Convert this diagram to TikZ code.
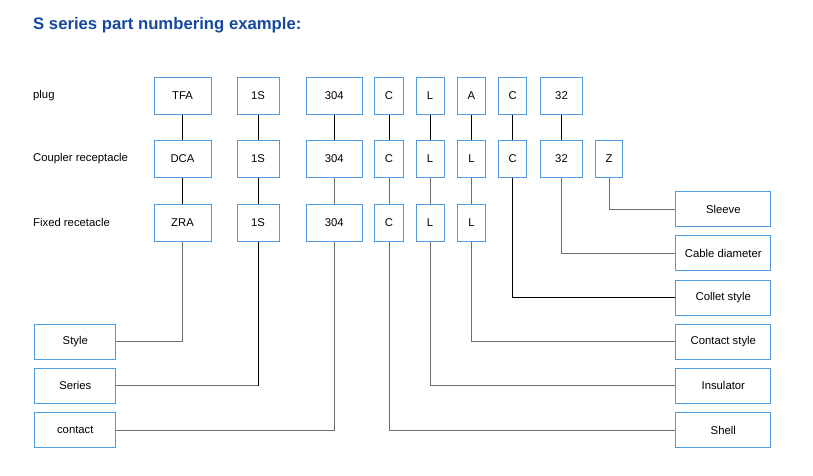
\documentclass[tikz,border=0pt]{standalone}
\usepackage{fontspec}
\setmainfont{Liberation Sans}
\definecolor{boxblue}{RGB}{80,155,220}
\definecolor{titleblue}{RGB}{22,72,160}
\definecolor{linegray}{RGB}{110,110,110}
\tikzset{
  pbox/.style={draw=boxblue, line width=1pt, fill=white, minimum height=37pt, inner sep=0pt, font=\fontsize{11.3}{13}\selectfont},
  lbox/.style={draw=boxblue, line width=1pt, fill=white, minimum height=35pt, inner sep=0pt, font=\fontsize{11.3}{13}\selectfont},
  rowlab/.style={anchor=west, inner sep=0pt, font=\fontsize{11.3}{13}\selectfont},
  link/.style={draw=black, line width=0.9pt},
  glink/.style={draw=linegray, line width=1pt},
}
\begin{document}
\begin{tikzpicture}[x=1pt, y=-1pt]
\useasboundingbox (0,0) rectangle (813,475);
\node[anchor=west, inner sep=0pt, text=titleblue, font=\fontsize{16.7}{19}\selectfont\bfseries] (title) at (33,25.5) {S series part numbering example:};
\node[rowlab] (lplug) at (33,96) {plug};
\node[rowlab] (lcoup) at (33,158.5) {Coupler receptacle};
\node[rowlab] (lfix) at (33,222.5) {Fixed recetacle};
% row 1
\node[pbox, minimum width=57pt] (a1) at (182.5,96) {TFA};
\node[pbox, minimum width=42pt] (b1) at (258,96) {1S};
\node[pbox, minimum width=56pt] (c1) at (334.3,96) {304};
\node[pbox, minimum width=29pt] (d1) at (389,96) {C};
\node[pbox, minimum width=28pt] (e1) at (430,96) {L};
\node[pbox, minimum width=28pt] (f1) at (471.5,96) {A};
\node[pbox, minimum width=28pt] (g1) at (512.8,96) {C};
\node[pbox, minimum width=42pt] (h1) at (561.5,96) {32};
% row 2
\node[pbox, minimum width=57pt] (a2) at (182.5,158.5) {DCA};
\node[pbox, minimum width=42pt] (b2) at (258,158.5) {1S};
\node[pbox, minimum width=56pt] (c2) at (334.3,158.5) {304};
\node[pbox, minimum width=29pt] (d2) at (389,158.5) {C};
\node[pbox, minimum width=28pt] (e2) at (430,158.5) {L};
\node[pbox, minimum width=28pt] (f2) at (471.5,158.5) {L};
\node[pbox, minimum width=28pt] (g2) at (512.8,158.5) {C};
\node[pbox, minimum width=42pt] (h2) at (561.5,158.5) {32};
\node[pbox, minimum width=27pt] (i2) at (609,158.5) {Z};
% row 3
\node[pbox, minimum width=57pt] (a3) at (182.5,222.5) {ZRA};
\node[pbox, minimum width=42pt] (b3) at (258,222.5) {1S};
\node[pbox, minimum width=56pt] (c3) at (334.3,222.5) {304};
\node[pbox, minimum width=29pt] (d3) at (389,222.5) {C};
\node[pbox, minimum width=28pt] (e3) at (430,222.5) {L};
\node[pbox, minimum width=28pt] (f3) at (471.5,222.5) {L};
% left boxes
\node[lbox, minimum width=81pt] (style) at (75.3,341.7) {Style};
\node[lbox, minimum width=81pt] (series) at (75.3,385.8) {Series};
\node[lbox, minimum width=81pt] (contact) at (75.3,430.2) {contact};
% right boxes
\node[lbox, minimum width=95pt] (sleeve) at (723.3,209) {Sleeve};
\node[lbox, minimum width=95pt] (cable) at (723.3,253) {Cable diameter};
\node[lbox, minimum width=95pt] (collet) at (723.3,297.5) {Collet style};
\node[lbox, minimum width=95pt] (cstyle) at (723.3,341.7) {Contact style};
\node[lbox, minimum width=95pt] (insul) at (723.3,385.8) {Insulator};
\node[lbox, minimum width=95pt] (shell) at (723.3,430.2) {Shell};
% vertical links
\foreach \c in {a,b,c,d,e,f,g,h}{\draw[link] (\c1) -- (\c2);}
\draw[link] (a2) -- (a3);
\draw[link] (b2) -- (b3);
\foreach \c in {c,d,e,f}{\draw[glink] (\c2) -- (\c3);}
% to left boxes
\draw[glink] (a3.south) |- (style.east);
\draw[link] (b3.south) -- (b3.south |- series.east);
\draw[glink] (b3.south |- series.east) -- (series.east);
\draw[glink] (c3.south) |- (contact.east);
% to right boxes
\draw[glink] (i2.south) |- (sleeve.west);
\draw[glink] (h2.south) |- (cable.west);
\draw[link] (g2.south) |- (collet.west);
\draw[glink] (f3.south) |- (cstyle.west);
\draw[glink] (e3.south) |- (insul.west);
\draw[glink] (d3.south) |- (shell.west);
\end{tikzpicture}
\end{document}
